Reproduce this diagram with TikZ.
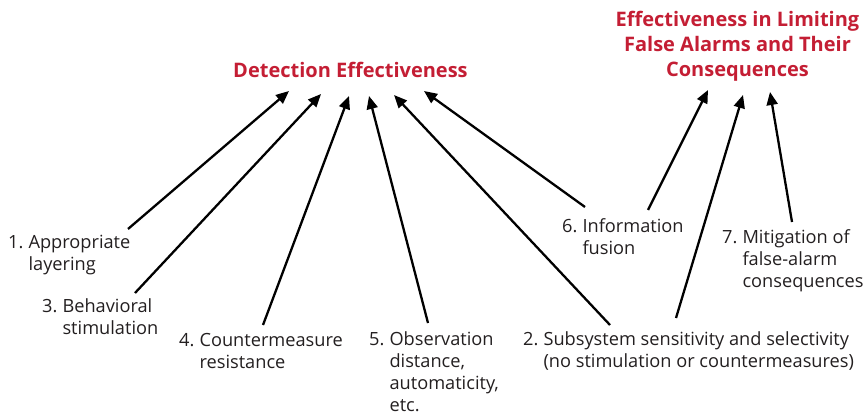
\documentclass[tikz,border=0pt]{standalone}
\usepackage{fontspec}
\setmainfont{Open Sans}
\usetikzlibrary{arrows.meta}
\definecolor{titlered}{RGB}{196,30,52}
\definecolor{bodytext}{RGB}{35,31,32}
\newcommand{\numsp}{\hspace*{0.28em}}
\newcommand{\hang}[1]{\hbox{\phantom{0.\numsp}#1}}
\begin{document}
\begin{tikzpicture}[x=1pt,y=-1pt,
  lbl/.style={anchor=base west,inner sep=0pt,text=bodytext,font=\fontsize{18.2}{22}\selectfont},
  ttl/.style={inner sep=0pt,text=titlered,font=\fontsize{20}{25}\selectfont\bfseries},
  arr/.style={line width=2.3pt,-{Triangle[length=13pt,width=11pt]}}]
\useasboundingbox (0,0) rectangle (864,414);
% titles
\node[ttl,anchor=base west] (det) at (233,78) {Detection Effectiveness};
\node[ttl,anchor=base] (fa) at (737.5,27) {\begin{tabular}[t]{@{}c@{}}Effectiveness in Limiting\\False Alarms and Their\\Consequences\end{tabular}};
% labels
\node[lbl] (l1) at (8,248) {\vtop{\baselineskip=22pt\hbox{1.\numsp Appropriate}\hang{layering}}};
\node[lbl] (l3) at (42,312) {\vtop{\baselineskip=22pt\hbox{3.\numsp Behavioral}\hang{stimulation}}};
\node[lbl] (l4) at (179,346) {\vtop{\baselineskip=22pt\hbox{4.\numsp Countermeasure}\hang{resistance}}};
\node[lbl] (l5) at (369,345.5) {\vtop{\baselineskip=22pt\hbox{5.\numsp Observation}\hang{distance,}\hang{automaticity,}\hang{etc.}}};
\node[lbl] (l2) at (523,345) {\vtop{\baselineskip=22pt\hbox{2.\numsp Subsystem sensitivity and selectivity}\hang{(no stimulation or countermeasures)}}};
\node[lbl] (l6) at (562,232) {\vtop{\baselineskip=22pt\hbox{6.\numsp Information}\hang{fusion}}};
\node[lbl] (l7) at (722,243) {\vtop{\baselineskip=22pt\hbox{7.\numsp Mitigation of}\hang{false-alarm}\hang{consequences}}};
% arrow end points
\coordinate (t1) at (128,229);
\coordinate (h1) at (289,91);
\coordinate (t3) at (135,293);
\coordinate (h3) at (321,94);
\coordinate (t4) at (263,325);
\coordinate (h4) at (349,96);
\coordinate (t5) at (428,323);
\coordinate (h5) at (369,96);
\coordinate (t2a) at (610,325);
\coordinate (h2a) at (394,95);
\coordinate (t6a) at (585,207);
\coordinate (h6a) at (424,91);
\coordinate (t6b) at (648,210);
\coordinate (h6b) at (708,90);
\coordinate (t2b) at (676,318);
\coordinate (h2b) at (743,95);
\coordinate (t7) at (792,222);
\coordinate (h7) at (770,92);
\draw[arr] (t1) -- (h1);
\draw[arr] (t3) -- (h3);
\draw[arr] (t4) -- (h4);
\draw[arr] (t5) -- (h5);
\draw[arr] (t2a) -- (h2a);
\draw[arr] (t6a) -- (h6a);
\draw[arr] (t6b) -- (h6b);
\draw[arr] (t2b) -- (h2b);
\draw[arr] (t7) -- (h7);
\end{tikzpicture}
\end{document}
